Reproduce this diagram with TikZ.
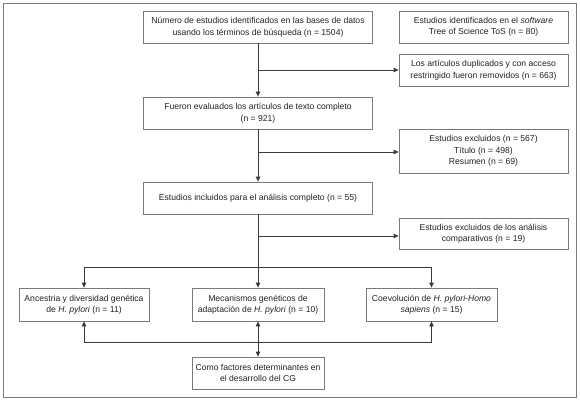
\documentclass[tikz,border=0pt]{standalone}
\usepackage{fontspec}
\setmainfont{Liberation Sans}
\usetikzlibrary{arrows.meta}
\definecolor{boxgray}{HTML}{7A7A7A}
\definecolor{linegray}{HTML}{3A3A3A}
\definecolor{txt}{HTML}{222222}
\begin{document}
\begin{tikzpicture}[x=1pt,y=1pt,
  box/.style={draw=boxgray, line width=0.8pt, align=center, inner sep=0pt,
    font=\fontsize{8.6}{11.5}\selectfont, text=txt},
  arr/.style={draw=linegray, line width=0.8pt, -{Triangle[length=5pt,width=4.5pt]}},
  arrboth/.style={draw=linegray, line width=0.8pt, {Triangle[length=5pt,width=4.5pt]}-{Triangle[length=5pt,width=4.5pt]}},
  ln/.style={draw=linegray, line width=0.8pt}]
\useasboundingbox (0,0) rectangle (580,-401);
\draw[draw=boxgray, line width=0.9pt] (3,-3) rectangle (576,-397);
% top column
\node[box, minimum width=229, minimum height=32] (b1) at (258,-27) {Número de estudios identificados en las bases de datos\\usando los términos de búsqueda (n = 1504)};
\node[box, minimum width=169, minimum height=32] (tos) at (483.5,-27) {Estudios identificados en el \textit{software}\\Tree of Science ToS (n = 80)};
\node[box, minimum width=169, minimum height=32] (rem) at (483.5,-70) {Los artículos duplicados y con acceso\\restringido fueron removidos (n = 663)};
\node[box, minimum width=229, minimum height=32] (ev) at (258,-113) {Fueron evaluados los artículos de texto completo\\(n = 921)};
\node[box, minimum width=169, minimum height=44] (exc) at (483.5,-151) {Estudios excluidos (n = 567)\\Título (n = 498)\\Resumen (n = 69)};
\node[box, minimum width=229, minimum height=32] (inc) at (258,-198) {Estudios incluidos para el análisis completo (n = 55)};
\node[box, minimum width=169, minimum height=31] (exc2) at (483.5,-233.5) {Estudios excluidos de los análisis\\comparativos (n = 19)};
% bottom row
\node[box, minimum width=130, minimum height=33] (anc) at (84,-304.5) {Ancestria y diversidad genética\\de \textit{H. pylori} (n = 11)};
\node[box, minimum width=132, minimum height=33] (mec) at (258,-304.5) {Mecanismos genéticos de\\adaptación de \textit{H. pylori} (n = 10)};
\node[box, minimum width=131, minimum height=33] (coe) at (431.5,-304.5) {Coevolución de \textit{H. pylori-Homo}\\\textit{sapiens} (n = 15)};
\node[box, minimum width=132, minimum height=32] (como) at (258,-373) {Como factores determinantes en\\el desarrollo del CG};
\coordinate (j1) at (258,-70);
\coordinate (j2) at (258,-152);
\coordinate (j3) at (258,-236);
\coordinate (jt) at (258,-267);
\coordinate (jb) at (258,-342);
% connectors
\draw[arr] (b1.south) -- (ev.north);
\draw[arr] (j1) -- (j1 -| rem.west);
\draw[arr] (ev.south) -- (inc.north);
\draw[arr] (j2) -- (j2 -| exc.west);
\draw[arr] (inc.south) -- (mec.north);
\draw[arr] (j3) -- (j3 -| exc2.west);
\draw[arr] (jt) -| (anc.north);
\draw[arr] (jt) -| (coe.north);
\draw[arrboth] (mec.south) -- (como.north);
\draw[arr] (jb) -| (anc.south);
\draw[arr] (jb) -| (coe.south);
\end{tikzpicture}
\end{document}
